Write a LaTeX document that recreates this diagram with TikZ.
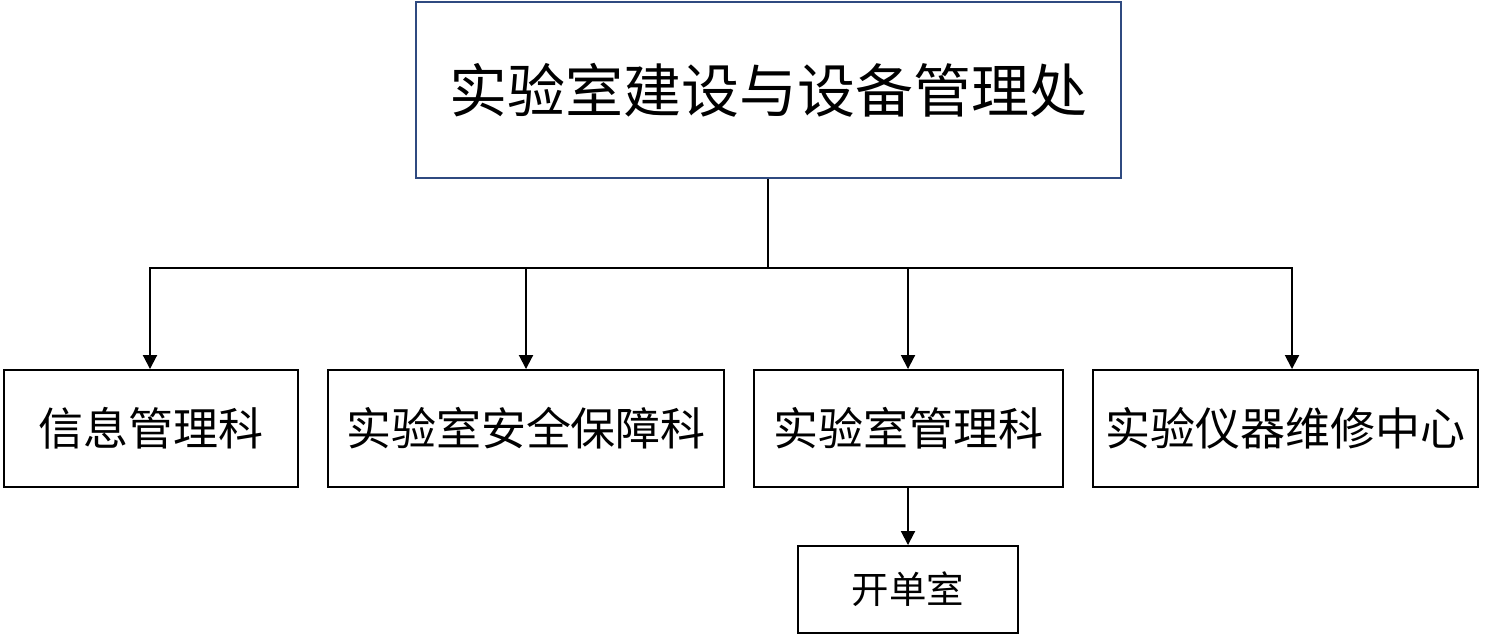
\documentclass[tikz,border=0pt]{standalone}
\usepackage{fontspec}
\newfontfamily\cjk{Noto Sans CJK SC}
\usetikzlibrary{arrows.meta}
\definecolor{topblue}{HTML}{2F4A80}
\begin{document}
\begin{tikzpicture}[x=0.02cm,y=-0.02cm,
  box/.style={draw=black,line width=1.1pt,inner sep=0pt,font=\cjk\fontsize{25.6}{30}\selectfont},
  arr/.style={line width=1.1pt,-{Triangle[width=0.28cm,length=0.28cm]}},
  ln/.style={line width=1.1pt}]
\useasboundingbox (0,0) rectangle (1500,636);
\node[box,draw=topblue,minimum width=705*0.02cm,minimum height=176*0.02cm,font=\cjk\fontsize{33}{38}\selectfont] (top) at (768.5,90) {实验室建设与设备管理处};
\node[box,minimum width=294*0.02cm,minimum height=117*0.02cm] (b1) at (151,428.5) {信息管理科};
\node[box,minimum width=396*0.02cm,minimum height=117*0.02cm] (b2) at (526,428.5) {实验室安全保障科};
\node[box,minimum width=309*0.02cm,minimum height=117*0.02cm] (b3) at (908.5,428.5) {实验室管理科};
\node[box,minimum width=385*0.02cm,minimum height=117*0.02cm] (b4) at (1285.5,428.5) {实验仪器维修中心};
\node[box,minimum width=220*0.02cm,minimum height=87*0.02cm,font=\cjk\fontsize{21.3}{25}\selectfont] (s1) at (908,589.5) {开单室};
\coordinate (j) at (768,268);
\coordinate (c1) at (150,268);
\coordinate (c2) at (526,268);
\coordinate (c3) at (908,268);
\coordinate (c4) at (1292,268);
\draw[ln] (top.south -| j) -- (j);
\draw[arr] (j) -| (c1 |- b1.north);
\draw[arr] (j) -| (c4 |- b4.north);
\draw[arr] (c2) -- (c2 |- b2.north);
\draw[arr] (c3) -- (c3 |- b3.north);
\draw[arr] (b3.south -| s1.north) -- (s1.north);
\end{tikzpicture}
\end{document}
